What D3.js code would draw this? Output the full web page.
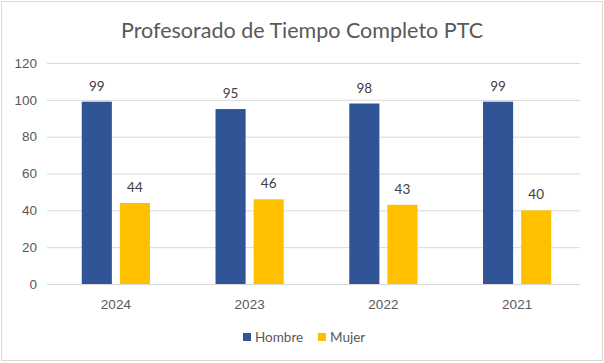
<!DOCTYPE html>
<html>
<head>
<meta charset="utf-8">
<script src="https://cdn.jsdelivr.net/npm/d3@7/dist/d3.min.js"></script>
<style>
  html, body { margin: 0; padding: 0; background: #fff; }
  svg { display: block; font-family: Lato, "Open Sans", sans-serif; }
</style>
</head>
<body>
<div id="chart"></div>
<script>
// ---- DATA ----
const years = ['2024', '2023', '2022', '2021'];
const series = ['Hombre', 'Mujer'];
const hombre = [99, 95, 98, 99];
const mujer = [44, 46, 43, 40];
const yTicks = [0, 20, 40, 60, 80, 100, 120];
const colors = ['#2F5597', '#FFC000'];

const W = 604, H = 363;
const margin = { top: 63, right: 20, bottom: 79, left: 49 };

const svg = d3.select('#chart').append('svg')
  .attr('width', W).attr('height', H);

// chart border
svg.append('rect')
  .attr('x', 1.5).attr('y', 1.5)
  .attr('width', W - 3).attr('height', H - 4)
  .attr('fill', '#fff').attr('stroke', '#d9d9d9');

const x0 = d3.scaleBand().domain(years)
  .range([margin.left, W - margin.right])
  .paddingInner(0.49).paddingOuter(0.245);
const x1 = d3.scaleBand().domain(series)
  .range([0, x0.bandwidth()]).paddingInner(0.21);
const y = d3.scaleLinear().domain([0, 120])
  .range([H - margin.bottom, margin.top]);

// gridlines + y labels
const yAxis = d3.axisLeft(y).tickValues(yTicks)
  .tickSize(-(W - margin.right - margin.left - 2)).tickPadding(10);
const gy = svg.append('g')
  .attr('transform', `translate(${margin.left - 2},0)`)
  .call(yAxis);
gy.select('.domain').remove();
gy.selectAll('.tick line').attr('stroke', '#d9d9d9');
gy.selectAll('.tick text').attr('fill', '#595959').attr('font-size', 13.5);

// x labels
const xAxis = d3.axisBottom(x0).tickSize(0).tickPadding(15);
const gx = svg.append('g')
  .attr('transform', `translate(0,${H - margin.bottom})`)
  .call(xAxis);
gx.select('.domain').remove();
gx.selectAll('.tick text').attr('fill', '#595959').attr('font-size', 13.5);

// bars
const rows = years.map((yr, i) => ({ year: yr, values: [hombre[i], mujer[i]] }));
const groups = svg.append('g').selectAll('g').data(rows).join('g')
  .attr('transform', d => `translate(${x0(d.year)},0)`);

groups.selectAll('rect').data(d => d.values.map((v, i) => ({ key: series[i], v, i })))
  .join('rect')
  .attr('x', d => x1(d.key))
  .attr('y', d => y(d.v))
  .attr('width', x1.bandwidth())
  .attr('height', d => y(0) - y(d.v))
  .attr('fill', d => colors[d.i]);

groups.selectAll('text').data(d => d.values.map((v, i) => ({ key: series[i], v })))
  .join('text')
  .attr('x', d => x1(d.key) + x1.bandwidth() / 2)
  .attr('y', d => y(d.v) - 11)
  .attr('text-anchor', 'middle')
  .attr('fill', '#404040')
  .attr('font-size', 13.5)
  .text(d => d.v);

// title
svg.append('text')
  .attr('x', W / 2).attr('y', 38)
  .attr('text-anchor', 'middle')
  .attr('fill', '#595959')
  .attr('font-size', 21.5)
  .text('Profesorado de Tiempo Completo PTC');

// legend
const legend = svg.append('g').attr('transform', 'translate(243,332)');
const items = [{ x: 0, label: series[0], c: colors[0] }, { x: 75, label: series[1], c: colors[1] }];
items.forEach(it => {
  legend.append('rect').attr('x', it.x).attr('y', 1)
    .attr('width', 8).attr('height', 8).attr('fill', it.c);
  legend.append('text').attr('x', it.x + 12).attr('y', 10)
    .attr('fill', '#595959').attr('font-size', 13.5).text(it.label);
});
</script>
</body>
</html>
